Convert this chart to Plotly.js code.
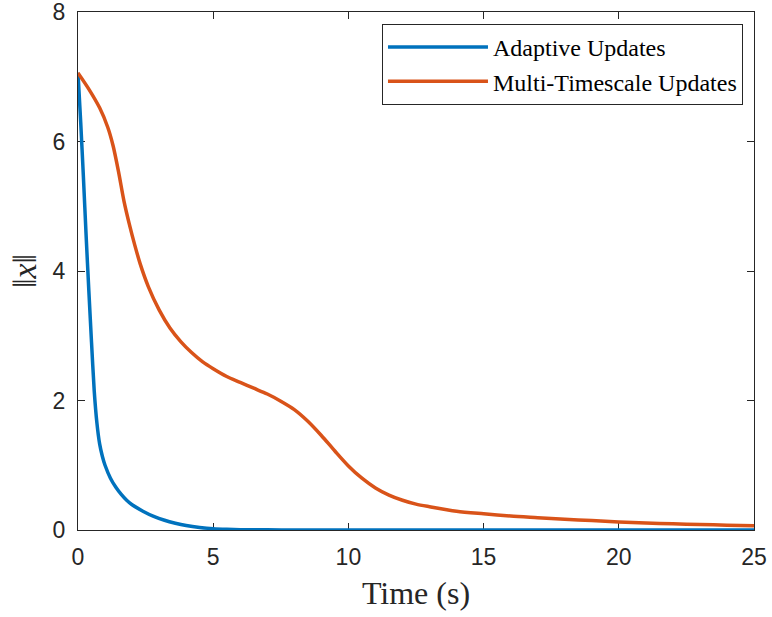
<!DOCTYPE html>
<html>
<head>
<meta charset="utf-8">
<script src="https://cdn.plot.ly/plotly-3.0.1.min.js"></script>
<style>html,body{margin:0;padding:0;background:#fff;}#chart{width:772px;height:617px;}</style>
</head>
<body>
<div id="chart"></div>
<script>
const seriesNames = ["Adaptive Updates", "Multi-Timescale Updates"];

const tAdaptive = [0, 0.1, 0.2, 0.3, 0.4, 0.5, 0.6, 0.7, 0.8, 0.9, 1.0, 1.2, 1.4, 1.6, 1.8, 2.0, 2.4, 2.8, 3.2, 3.6, 4.0, 4.5, 5, 5.5, 6, 7, 8, 10, 15, 20, 25];
const xAdaptive = [7.06, 6.3, 5.45, 4.55, 3.7, 2.9, 2.15, 1.65, 1.33, 1.14, 1.0, 0.8, 0.66, 0.55, 0.46, 0.39, 0.29, 0.21, 0.15, 0.105, 0.07, 0.04, 0.02, 0.01, 0.005, 0.002, 0.001, 0, 0, 0, 0];

const tMulti = [0, 0.4, 0.8, 1.1, 1.3, 1.5, 1.7, 1.9, 2.1, 2.3, 2.6, 3.0, 3.4, 3.8, 4.2, 4.6, 5, 5.5, 6, 6.5, 7, 7.5, 8, 8.5, 9, 9.5, 10, 10.5, 11, 11.5, 12, 12.5, 13, 14, 15, 16, 17, 18, 19, 20, 21, 22, 23, 24, 25];
const xMulti = [7.06, 6.81, 6.52, 6.22, 5.93, 5.53, 5.08, 4.72, 4.40, 4.11, 3.76, 3.40, 3.12, 2.91, 2.74, 2.60, 2.49, 2.37, 2.28, 2.19, 2.10, 1.99, 1.86, 1.68, 1.46, 1.22, 0.99, 0.80, 0.65, 0.54, 0.46, 0.40, 0.36, 0.29, 0.25, 0.215, 0.19, 0.165, 0.145, 0.125, 0.11, 0.095, 0.085, 0.075, 0.065];

const xTicks = [0, 5, 10, 15, 20, 25];
const yTicks = [0, 2, 4, 6, 8];

const axisColor = '#262626';
const serif = 'Liberation Serif, Times New Roman, serif';
const tickFont = {family: 'Liberation Sans, Arial, sans-serif', size: 23, color: axisColor};

const traces = [
  {x: tAdaptive, y: xAdaptive, name: seriesNames[0], mode: 'lines',
   line: {color: '#0072BD', width: 3.5, shape: 'spline', smoothing: 0.6}},
  {x: tMulti, y: xMulti, name: seriesNames[1], mode: 'lines',
   line: {color: '#D95319', width: 3.5, shape: 'spline', smoothing: 0.8}}
];

const layout = {
  width: 772, height: 617,
  margin: {l: 78, r: 18, t: 12, b: 87},
  paper_bgcolor: '#ffffff', plot_bgcolor: '#ffffff',
  showlegend: true,
  legend: {
    x: 0.9837, xanchor: 'right', y: 0.977, yanchor: 'top',
    bgcolor: '#ffffff', bordercolor: axisColor, borderwidth: 1,
    font: {family: serif, size: 24, color: '#000'},
    itemwidth: 100, tracegroupgap: 0
  },
  xaxis: {
    range: [0, 25], tickvals: xTicks, ticktext: xTicks.map(String),
    ticks: 'inside', ticklen: 7, tickcolor: axisColor, tickwidth: 1,
    showline: true, linecolor: axisColor, linewidth: 1, mirror: 'ticks',
    showgrid: false, zeroline: false, layer: 'below traces',
    tickfont: tickFont, fixedrange: true, ticklabelstandoff: 6,
    title: {text: 'Time (s)', font: {family: serif, size: 32, color: axisColor}, standoff: 13}
  },
  yaxis: {
    range: [0, 8.0001], tickvals: yTicks, ticktext: yTicks.map(String),
    ticks: 'inside', ticklen: 7, tickcolor: axisColor, tickwidth: 1,
    showline: true, linecolor: axisColor, linewidth: 1, mirror: 'ticks',
    showgrid: false, zeroline: false, layer: 'below traces',
    tickfont: tickFont, fixedrange: true, ticklabelstandoff: 7, ticklabeloverflow: 'allow',
    title: {text: '‖<i>x</i>‖', font: {family: serif, size: 34, color: axisColor}, standoff: 5}
  }
};

Plotly.newPlot('chart', traces, layout, {displayModeBar: false, staticPlot: true});
</script>
</body>
</html>
